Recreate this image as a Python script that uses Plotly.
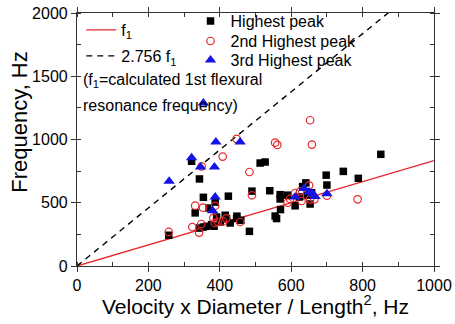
import plotly.graph_objects as go

# f1 line model
F1_SLOPE = 0.833
RATIO = 2.756
LINE_X = [0, 1000]

# Highest peak (black squares)
hp_x = [257, 321, 343, 354, 331, 370, 387, 424, 415, 448, 483, 490, 513, 527, 540,
        569, 569, 570, 555, 559, 590, 611, 632, 641, 623, 653, 657, 698, 700, 746,
        788, 851, 343, 354, 363, 377, 384, 391, 401, 419, 429, 447, 459, 645]
hp_y = [243, 828, 688, 543, 420, 458, 505, 552, 401, 394, 274, 592, 814, 822, 595,
        564, 530, 446, 395, 375, 560, 476, 628, 657, 546, 490, 580, 718, 640, 748,
        693, 883, 300, 308, 314, 327, 314, 387, 348, 375, 340, 375, 361, 560]

# 2nd highest peak (red open circles)
p2_x = [257, 331, 353, 387, 323, 342, 348, 382, 386, 394, 409, 418, 457, 349, 408,
        447, 483, 490, 555, 561, 653, 658, 611, 625, 650, 597, 629, 653, 665, 700,
        786, 590]
p2_y = [269, 477, 461, 476, 308, 264, 332, 380, 340, 348, 352, 377, 348, 788, 865,
        1005, 743, 559, 975, 957, 1152, 960, 577, 590, 638, 530, 514, 527, 527, 556,
        527, 500]

# 3rd highest peak (blue triangles)
p3_x = [258, 321, 346, 354, 385, 389, 457, 387, 380, 611, 636, 650, 660, 667, 700]
p3_y = [670, 855, 783, 1289, 783, 980, 980, 546, 437, 546, 612, 585, 572, 550, 572]

RED = "#e8262a"
BLUE = "#1414e6"
FONT = "Liberation Sans, Arial, sans-serif"

fig = go.Figure()

fig.add_trace(go.Scatter(
    x=LINE_X, y=[F1_SLOPE * v for v in LINE_X], mode="lines",
    line=dict(color=RED, width=1.4), name="f<sub>1</sub>", legend="legend"))
fig.add_trace(go.Scatter(
    x=LINE_X, y=[RATIO * F1_SLOPE * v for v in LINE_X], mode="lines",
    line=dict(color="black", width=1.4, dash="6px,5px"), name="2.756 f<sub>1</sub>",
    legend="legend2"))

fig.add_trace(go.Scatter(
    x=hp_x, y=hp_y, mode="markers", name="Highest peak", legend="legend3",
    marker=dict(symbol="square", color="black", size=7.5, line=dict(width=0))))
fig.add_trace(go.Scatter(
    x=p2_x, y=p2_y, mode="markers", name="2nd Highest peak", legend="legend4",
    marker=dict(symbol="circle-open", color=RED, size=7.5, line=dict(width=1.2))))
fig.add_trace(go.Scatter(
    x=p3_x, y=p3_y, mode="markers", name="3rd Highest peak", legend="legend5",
    marker=dict(symbol="triangle-up", color=BLUE, size=10, line=dict(width=0))))

axis_common = dict(
    showline=True, linecolor="#333", linewidth=1.2, mirror="ticks",
    showgrid=False, zeroline=False, ticks="outside", ticklen=5, tickcolor="#333",
    tickfont=dict(family=FONT, size=16, color="black"), automargin=False,
)


def leg(x, y):
    return dict(x=x, y=y, xanchor="left", yanchor="middle",
                bgcolor="rgba(0,0,0,0)", font=dict(family=FONT, size=16),
                itemwidth=30, tracegroupgap=0)


fig.update_layout(
    width=455, height=324,
    margin=dict(l=77, r=21, t=13, b=58, autoexpand=False),
    paper_bgcolor="white", plot_bgcolor="white",
    font=dict(family=FONT, color="black"),
    xaxis=dict(range=[0, 1000], dtick=200, tick0=0,
               minor=dict(dtick=100, ticks="inside", ticklen=4, tickcolor="#333"),
               **axis_common),
    yaxis=dict(range=[0, 2000], dtick=500, tick0=0,
               minor=dict(dtick=250, ticks="inside", ticklen=4, tickcolor="#333"),
               **axis_common),
    legend=leg(0.012, 0.933),
    legend2=leg(0.012, 0.830),
    legend3=leg(0.318, 0.968),
    legend4=leg(0.318, 0.889),
    legend5=leg(0.318, 0.814),
    showlegend=True,
)

fig.add_annotation(
    xref="paper", yref="paper", x=0.012, y=0.735, xanchor="left", yanchor="middle",
    showarrow=False, text="(f<sub>1</sub>=calculated 1st flexural",
    font=dict(family=FONT, size=16))
fig.add_annotation(
    xref="paper", yref="paper", x=0.012, y=0.636, xanchor="left", yanchor="middle",
    showarrow=False, text="resonance frequency)",
    font=dict(family=FONT, size=16))
fig.add_annotation(
    xref="paper", yref="paper", x=-0.16, y=0.57, xanchor="center", yanchor="middle",
    showarrow=False, text="Frequency, Hz", textangle=-90,
    font=dict(family=FONT, size=22))
fig.add_annotation(
    xref="paper", yref="paper", x=0.5, y=-0.155, xanchor="center", yanchor="middle",
    showarrow=False, text="Velocity x Diameter / Length<sup>2</sup>, Hz",
    font=dict(family=FONT, size=21))

fig.write_html("out.html", config={"displayModeBar": False},
               post_script="document.body.style.margin='0';")
